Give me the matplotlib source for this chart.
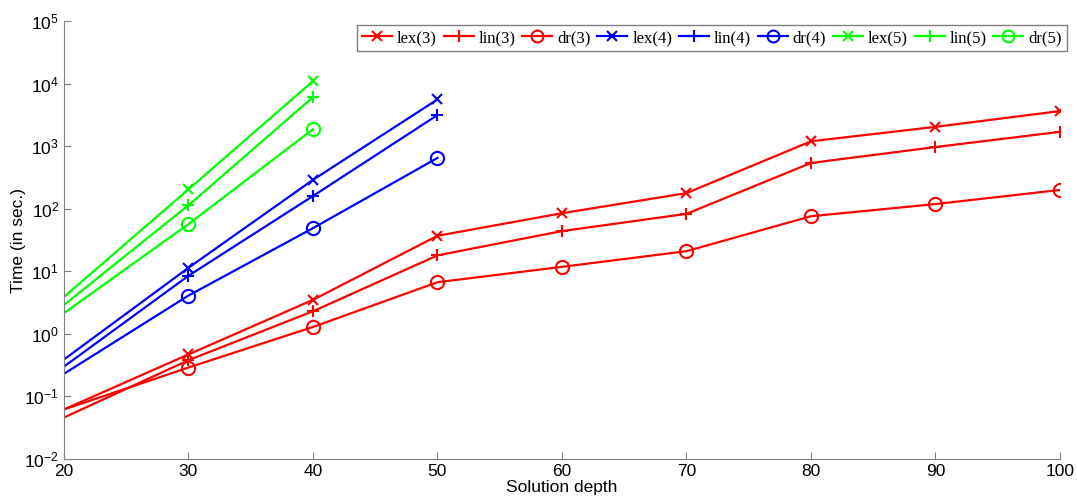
import numpy as np
import matplotlib
matplotlib.use('Agg')
import matplotlib.pyplot as plt

# Solution depth values
depth3 = [20, 30, 40, 50, 60, 70, 80, 90, 100]
depth4 = [20, 30, 40, 50]
depth5 = [20, 30, 40]

lex3 = [0.062, 0.47, 3.5, 37, 85, 178, 1200, 2040, 3650]
lin3 = [0.046, 0.38, 2.3, 18, 44, 83, 540, 970, 1700]
dr3 = [0.062, 0.29, 1.29, 6.7, 11.8, 21, 76, 119, 200]

lex4 = [0.39, 11.4, 290, 5600]
lin4 = [0.30, 8.5, 160, 3150]
dr4 = [0.23, 4.1, 49, 650]

lex5 = [3.9, 205, 11000]
lin5 = [2.9, 114, 6100]
dr5 = [2.15, 57, 1870]

series = [
    ('lex(3)', depth3, lex3, 'x', '#ff0000'),
    ('lin(3)', depth3, lin3, '+', '#ff0000'),
    ('dr(3)', depth3, dr3, 'o', '#ff0000'),
    ('lex(4)', depth4, lex4, 'x', '#0000ff'),
    ('lin(4)', depth4, lin4, '+', '#0000ff'),
    ('dr(4)', depth4, dr4, 'o', '#0000ff'),
    ('lex(5)', depth5, lex5, 'x', '#00ff00'),
    ('lin(5)', depth5, lin5, '+', '#00ff00'),
    ('dr(5)', depth5, dr5, 'o', '#00ff00'),
]
msizes = {'x': 7.5, '+': 9, 'o': 9.5}

plt.rcParams['font.family'] = ['Liberation Sans', 'DejaVu Sans']

fig = plt.figure(figsize=(10.77, 5.03), dpi=100)
ax = fig.add_axes([0.0594, 0.0875, 0.9248, 0.8705])

for label, xs, ys, mk, col in series:
    ax.plot(xs, ys, color=col, marker=mk, markersize=msizes[mk], linewidth=1.6,
            markeredgewidth=1.5, markerfacecolor='none',
            markevery=slice(1, None), label=label)

ax.set_yscale('log')
ax.set_xlim(20, 100)
ax.set_ylim(1e-2, 1e5)
ax.set_xticks(np.arange(20, 101, 10))
ax.set_yticks([10.0**k for k in range(-2, 6)])
ax.minorticks_off()
ax.tick_params(direction='in', length=5, color='#808080', labelsize=12.5)

for side in ['top', 'right']:
    ax.spines[side].set_visible(False)
for side in ['left', 'bottom']:
    ax.spines[side].set_color('#808080')

ax.set_xlabel('Solution depth', fontsize=12.5, labelpad=1)
ax.set_ylabel('Time (in sec.)', fontsize=12.5)
ax.yaxis.set_label_coords(-0.038, 0.5)

leg = ax.legend(ncol=9, loc='upper right', bbox_to_anchor=(1.007, 0.991),
                prop={'family': 'Liberation Serif', 'size': 12},
                handlelength=1.8, handletextpad=0.3, columnspacing=0.4,
                borderpad=0.3, borderaxespad=0.0, fancybox=False,
                framealpha=1, markerscale=0.9)
leg.get_frame().set_edgecolor('#808080')
leg.get_frame().set_linewidth(1.0)

fig.savefig('out.png', dpi=100)
